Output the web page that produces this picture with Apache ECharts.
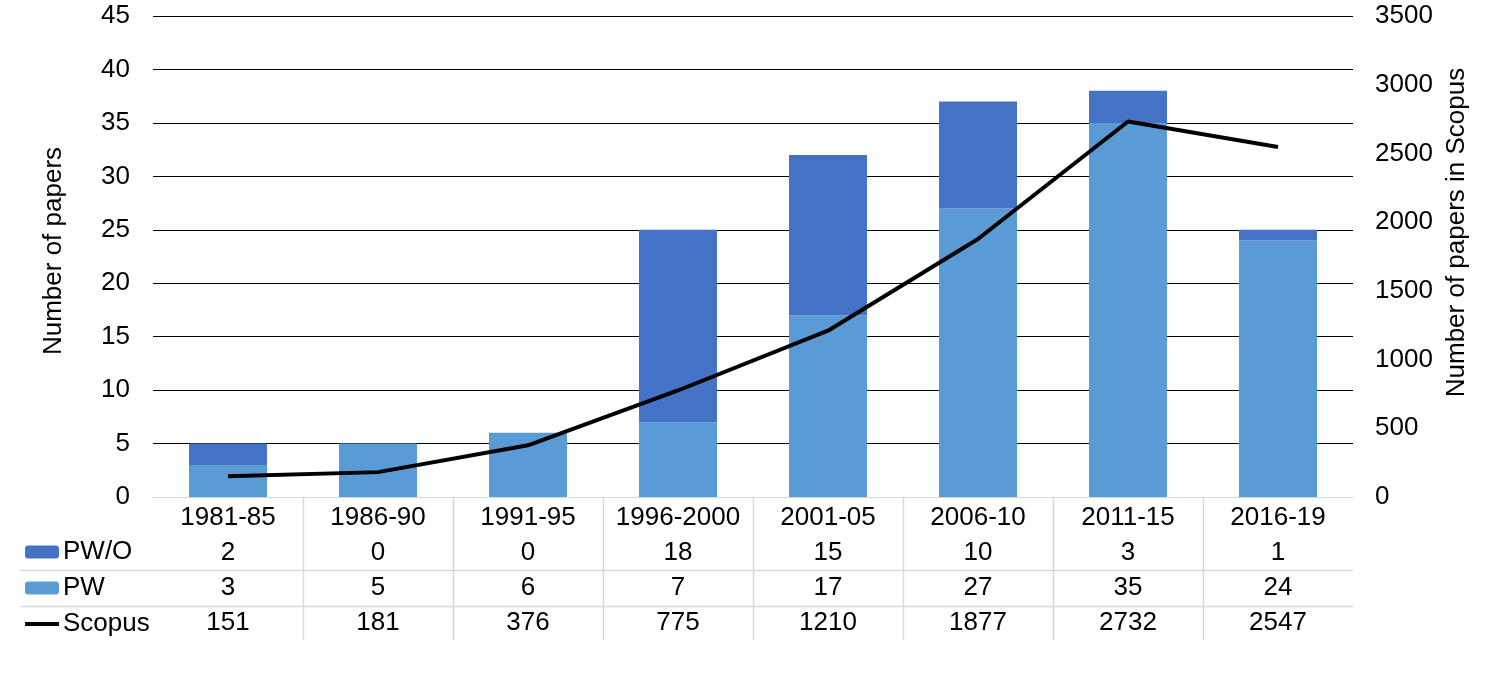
<!DOCTYPE html>
<html><head><meta charset="utf-8">
<script src="https://cdn.jsdelivr.net/npm/echarts@6/dist/echarts.min.js"></script>
<style>html,body{margin:0;padding:0;background:#fff}#c{width:1487px;height:674px}</style>
</head><body><div id="c"></div>
<script>
const categories = ['1981-85','1986-90','1991-95','1996-2000','2001-05','2006-10','2011-15','2016-19'];
const pwo = [2,0,0,18,15,10,3,1];
const pw = [3,5,6,7,17,27,35,24];
const scopus = [151,181,376,775,1210,1877,2732,2547];
const leftTicks = {min:0,max:45,interval:5};
const rightTicks = {min:0,max:3500,interval:500};

const F = 'Liberation Sans, Arial, sans-serif';
const FS = 26;
const chart = echarts.init(document.getElementById('c'));
const GL = 153, GR = 1353, GT = 16, GB = 497;
function rowAxis(offset, arr){
  return {type:'category', data:categories, position:'bottom', offset:offset,
    axisLine:{show:false}, axisTick:{show:false}, splitLine:{show:false},
    axisLabel:{margin:8, fontFamily:F, fontSize:FS, color:'#000', interval:0, lineHeight:26,
      formatter:(v,i)=>String(arr[i])}};
}
chart.setOption({
  animation:false,
  grid:{left:GL, right:1487-GR, top:GT, bottom:674-GB},
  legend:{orient:'vertical', left:23, top:539, itemWidth:34, itemHeight:13, itemGap:10, padding:0,
    data:['PW/O','PW',{name:'Scopus', itemStyle:{opacity:0}, lineStyle:{width:4, color:'#000'}}], selectedMode:false,
    textStyle:{fontFamily:F, fontSize:FS, color:'#000', lineHeight:26, padding:[0,0,0,-1]}},
  xAxis:[
    {type:'category', data:categories, z:5,
      axisLine:{lineStyle:{color:'#d9d9d9', width:1}}, axisTick:{show:false},
      axisLabel:{margin:8, fontFamily:F, fontSize:FS, color:'#000', interval:0, lineHeight:26}},
    rowAxis(35, pwo), rowAxis(70, pw), rowAxis(105, scopus)
  ],
  yAxis:[
    {type:'value', min:leftTicks.min, max:leftTicks.max, interval:leftTicks.interval,
      name:'Number of papers', nameLocation:'middle', nameGap:86, nameRotate:90,
      nameTextStyle:{fontFamily:F, fontSize:FS, color:'#000', padding:[0,0,0,11]},
      axisLine:{show:false}, axisTick:{show:false},
      axisLabel:{margin:23, fontFamily:F, fontSize:FS, color:'#000'},
      splitLine:{lineStyle:{color:'#000', width:1}}},
    {type:'value', min:rightTicks.min, max:rightTicks.max, interval:rightTicks.interval, position:'right',
      name:'Number of papers in Scopus', nameLocation:'middle', nameGap:86, nameRotate:90,
      nameTextStyle:{fontFamily:F, fontSize:FS, color:'#000', padding:[0,0,0,48]},
      axisLine:{show:false}, axisTick:{show:false}, splitLine:{show:false},
      axisLabel:{margin:22, fontFamily:F, fontSize:FS, color:'#000', align:'left', formatter:v=>String(v)}}
  ],
  series:[
    {name:'PW', type:'bar', stack:'a', data:pw, barWidth:78, itemStyle:{color:'#5B9BD5'}, z:2},
    {name:'PW/O', type:'bar', stack:'a', data:pwo, barWidth:78, itemStyle:{color:'#4472C4'}, z:2},
    {name:'Scopus', type:'line', yAxisIndex:1, data:scopus, symbol:'none',
      lineStyle:{color:'#000', width:4}, itemStyle:{color:'#000'}, z:4}
  ]
});
// table separators
const step = (GR-GL)/categories.length;
const g = [];
for (let i=1;i<categories.length;i++){
  const x = Math.round(GL + step*i)+0.5;
  g.push({type:'line', shape:{x1:x,y1:GB,x2:x,y2:640}, style:{stroke:'#d9d9d9', lineWidth:1.5}});
}
[570,606].forEach(y=>g.push({type:'line', shape:{x1:20,y1:y+0.5,x2:GR,y2:y+0.5}, style:{stroke:'#d9d9d9', lineWidth:1.5}}));
chart.setOption({graphic:g});
</script></body></html>
